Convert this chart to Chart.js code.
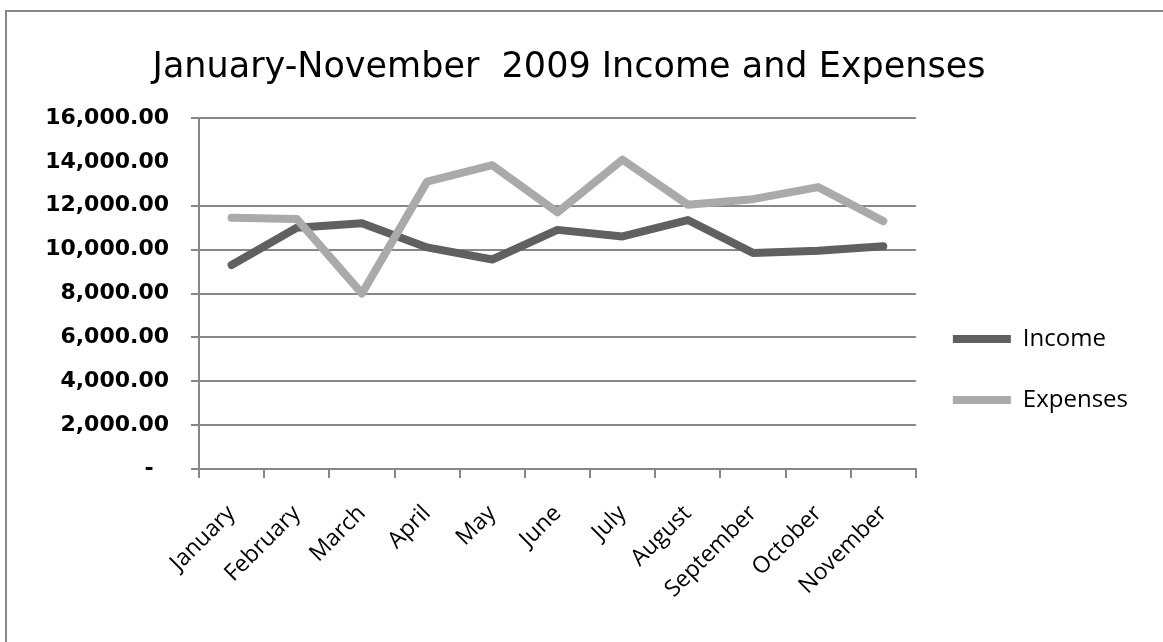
<!DOCTYPE html>
<html><head><meta charset="utf-8">
<script src="https://cdn.jsdelivr.net/npm/chart.js@4"></script>
<style>
html,body{margin:0;padding:0;background:#fff;overflow:hidden;width:1163px;height:642px}
#frame{position:absolute;left:5px;top:10px;width:1300px;height:800px;border-top:2px solid #878787;border-left:2px solid #878787}
#wrap{position:absolute;left:0;top:0;width:1163px;height:642px}
</style></head><body>
<div id="frame"></div>
<div id="wrap"><canvas id="c" width="1163" height="642"></canvas></div>
<script>
const chartTitle = 'January-November  2009 Income and Expenses';
const months = ['January','February','March','April','May','June','July','August','September','October','November'];
const income = [9300, 11000, 11200, 10100, 9550, 10900, 10600, 11350, 9850, 9950, 10150];
const expenses = [11450, 11400, 8000, 13100, 13850, 11700, 14100, 12050, 12300, 12850, 11300];
const seriesNames = ['Income', 'Expenses'];
const seriesColors = ['#606060', '#aaaaaa'];

const GRID = '#878787';
function fmt(v){
  if (v === 0) return '-  ';
  return v.toLocaleString('en-US',{minimumFractionDigits:2, maximumFractionDigits:2});
}

new Chart(document.getElementById('c'), {
  type: 'line',
  data: {
    labels: months,
    datasets: [
      {label: seriesNames[0], data: income, borderColor: seriesColors[0], backgroundColor: seriesColors[0], order: 1},
      {label: seriesNames[1], data: expenses, borderColor: seriesColors[1], backgroundColor: seriesColors[1], order: 0}
    ]
  },
  options: {
    responsive: false,
    animation: false,
    devicePixelRatio: 1,
    elements: {
      line: {borderWidth: 8, tension: 0, borderCapStyle: 'round', borderJoinStyle: 'round', fill: false},
      point: {radius: 0, hoverRadius: 0}
    },
    layout: {padding: {left: 0, top: 10, right: 25, bottom: 0}},
    plugins: {
      tooltip: {enabled: false},
      title: {
        display: true, text: chartTitle, color: '#000',
        font: {family: 'DejaVu Sans', size: 35, weight: 'normal'},
        padding: {top: 37, bottom: 29}
      },
      legend: {
        position: 'right',
        title: {display: true, text: ' ', font: {size: 10}, padding: {top: 0, bottom: 75}},
        labels: {
          boxWidth: 58, boxHeight: 8, padding: 37, color: '#000',
          font: {family: 'Open Sans', size: 24},
          generateLabels: (chart) => chart.data.datasets.map((ds, i) => ({
            text: ds.label, fillStyle: ds.borderColor, strokeStyle: ds.borderColor,
            lineWidth: 0, hidden: false, datasetIndex: i, fontColor: '#000'
          }))
        }
      }
    },
    scales: {
      x: {
        offset: true,
        grid: {display: true, drawOnChartArea: false, drawTicks: true, tickLength: 9, color: GRID, lineWidth: 2, offset: true},
        border: {color: GRID, width: 2},
        ticks: {minRotation: 45, maxRotation: 45, padding: 22, color: '#000', font: {family: 'Open Sans', size: 23}},
        afterFit: (s) => { s.height = 173; }
      },
      y: {
        min: 0, max: 16000,
        grid: {color: (ctx) => (ctx.tick && ctx.tick.value === 14000) ? 'rgba(0,0,0,0)' : GRID, lineWidth: 2, tickLength: 8, drawTicks: true},
        border: {color: GRID, width: 2},
        ticks: {stepSize: 2000, padding: 22, color: '#000', font: {family: 'DejaVu Sans', size: 22, weight: 'bold'}, callback: (v) => fmt(v)},
        afterFit: (s) => { s.width = 199; }
      }
    }
  }
});
</script>
</body></html>
